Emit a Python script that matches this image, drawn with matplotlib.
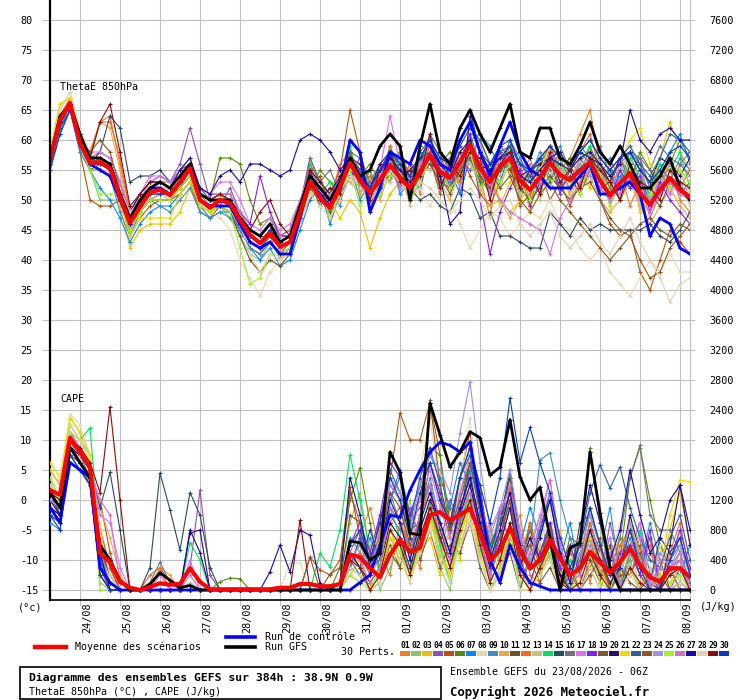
import numpy as np
import matplotlib
matplotlib.use('Agg')
import matplotlib.pyplot as plt
from matplotlib.lines import Line2D
from matplotlib.patches import Rectangle

# --- donnees lues sur le diagramme (pas de 6h depuis le 23/08 06Z) ---
date_labels = ['24/08', '25/08', '26/08', '27/08', '28/08', '29/08', '30/08', '31/08',
               '01/09', '02/09', '03/09', '04/09', '05/09', '06/09', '07/09', '08/09']

pert_colors = ['#e8802a', '#8cc56a', '#f0c000', '#8e4faf', '#b5520e', '#5a8a0a', '#0a84ff',
               '#e8d8b0', '#3a8fc0', '#e8a850', '#6b5420', '#f46a20', '#d0c080', '#00e060',
               '#2a4a60', '#6a7580', '#e070f0', '#8020f0', '#7a5a30', '#300a70', '#f0d800',
               '#2a60a0', '#8a5a20', '#a090e8', '#a0f030', '#d070d0', '#1a0a9a', '#e0d0b0',
               '#8a0a0a', '#0a3ac0']

# ThetaE 850hPa (degC)
te_mean = [56.7, 63.3, 66.2, 59.5, 56.2, 56.3, 55.3, 50.5, 46.2, 48.8, 51.3, 51.7, 50.8,
           53.0, 55.3, 50.0, 48.7, 50.0, 49.5, 46.7, 44.2, 42.8, 44.5, 42.2, 43.0, 47.8,
           53.0, 50.5, 48.7, 52.2, 56.2, 53.3, 51.2, 53.3, 55.8, 53.8, 52.0, 54.7, 57.5,
           54.7, 53.7, 56.3, 59.2, 55.3, 53.0, 55.5, 57.0, 53.3, 51.7, 53.8, 56.2, 54.2,
           53.3, 55.0, 56.3, 53.3, 50.8, 52.8, 54.5, 51.2, 49.2, 51.7, 53.7, 51.7, 50.5]
te_ctrl = [57, 63, 66, 60, 56, 55, 54, 50, 46, 49, 52, 52, 51,
           53, 55, 50, 49, 49, 49, 46, 43, 42, 43, 41, 41, 47,
           53, 51, 49, 52, 60, 58, 48, 52, 58, 57, 56, 60, 59,
           56, 55, 60, 63, 58, 54, 59, 63, 58, 55, 54, 52, 52,
           52, 54, 56, 51, 51, 52, 53, 51, 44, 47, 46, 42, 41]
te_gfs = [57, 64, 66, 61, 57, 57, 56, 51, 47, 50, 52, 53, 52,
          54, 56, 51, 50, 50, 50, 47, 45, 44, 46, 43, 44, 49,
          54, 52, 50, 53, 57, 54, 55, 59, 61, 59, 50, 59, 66,
          58, 56, 62, 65, 61, 58, 62, 66, 58, 57, 62, 62, 57,
          56, 59, 63, 58, 56, 59, 56, 52, 52, 54, 57, 52, 50]

te01 = [58,64,67,60,57,63,64,56,48,50,52,53,52, 54,56,51,50,51,49,45,42,41,44,40,42,47,
        50,54,47,53,59,51,55,50,58,52,56,51,60, 53,57,52,61,54,47,58,55,51,56,52,59,55,
        57,61,65,56,52,55,49,53,47,51,55,50,48]
te02 = [56,62,65,59,55,50,50,50,45,48,50,51,52, 52,54,49,48,49,47,44,41,40,43,41,42,46,
        55,49,52,50,58,55,48,54,55,57,50,58,56, 57,52,58,57,52,56,54,59,50,55,57,53,57,
        51,57,54,56,49,55,58,53,50,55,52,55,53]
te03 = [58,66,67,59,56,55,54,49,42,45,46,46,46, 48,52,49,48,51,49,46,43,42,44,43,44,48,
        54,52,50,47,50,48,42,47,51,53,51,55,57, 52,56,53,60,51,55,49,53,55,48,56,53,58,
        50,55,52,57,49,53,56,48,52,57,63,58,55]
te04 = [57,63,66,61,57,58,57,53,48,51,53,54,53, 56,62,56,50,49,52,48,45,44,46,44,45,49,
        57,53,51,55,54,57,50,56,53,58,53,57,55, 58,52,57,55,58,51,55,60,55,50,57,54,52,
        56,52,58,54,55,50,54,57,52,55,51,56,54]
te05 = [56,62,65,58,50,49,49,50,44,47,49,50,50, 51,53,48,47,49,48,45,42,41,43,41,43,49,
        56,53,51,55,65,58,52,55,57,54,51,54,57, 51,55,58,54,51,49,53,56,49,51,55,50,53,
        49,53,56,50,46,44,45,38,35,40,45,43,41]
te06 = [57,63,66,60,56,57,56,52,47,50,52,53,52, 54,56,51,50,57,57,56,50,46,47,44,45,50,
        52,55,53,51,57,54,56,53,59,55,50,57,60, 56,58,55,61,56,53,58,55,57,53,56,59,55,
        57,54,59,55,52,57,53,58,55,52,56,60,57]
te07 = [55,61,65,58,55,52,50,47,43,46,48,49,49, 51,53,49,47,48,48,45,42,40,42,39,40,45,
        50,52,46,51,56,50,53,51,57,51,53,52,58, 52,55,51,57,52,55,53,58,51,54,51,57,53,
        54,51,56,52,50,54,52,55,49,53,58,61,56]
te08 = [58,65,68,62,58,57,55,52,47,49,51,52,51, 52,54,50,48,47,45,40,37,34,38,40,41,47,
        52,50,49,51,55,52,50,52,55,53,50,52,49, 52,50,46,42,45,48,47,44,46,48,47,50,46,
        45,42,40,42,38,36,34,37,40,38,41,38,38]
te09 = [56,62,66,59,55,55,54,48,44,48,50,49,48, 50,52,48,47,48,47,45,42,41,43,41,42,46,
        54,50,52,49,57,55,51,55,58,56,53,57,59, 56,53,57,60,61,59,55,60,57,54,58,56,59,
        55,59,57,54,57,53,58,56,52,56,53,57,55]
te10 = [57,64,67,60,57,63,62,55,47,50,52,52,52, 53,56,50,49,50,49,46,43,42,44,42,43,47,
        51,53,48,54,53,51,54,50,55,52,55,53,57, 53,50,55,57,52,49,50,47,50,52,53,55,52,
        50,52,54,50,48,50,53,49,46,49,52,49,47]
te11 = [57,63,66,59,56,57,56,51,46,48,50,51,51, 52,54,49,48,49,48,44,40,38,40,39,41,46,
        53,49,51,50,54,55,49,53,54,56,50,53,58, 54,56,53,58,54,51,56,55,52,50,54,57,52,
        54,51,55,52,53,50,54,50,51,49,53,51,53]
te12 = [57,63,66,60,58,63,63,57,48,50,52,53,52, 54,56,51,49,50,49,46,43,42,44,42,43,48,
        55,52,50,56,58,52,54,52,59,53,56,54,61, 55,57,53,60,56,52,58,54,56,51,55,59,54,
        56,58,61,55,53,57,54,56,50,53,56,52,55]
te13 = [56,62,65,59,55,55,54,50,45,48,50,51,50, 52,54,49,48,49,49,46,43,42,44,42,43,47,
        51,52,47,53,53,54,48,54,53,55,49,56,55, 56,51,57,56,53,54,52,57,51,53,50,54,55,
        51,55,53,55,50,52,55,49,50,54,51,53,49]
te14 = [58,64,66,60,57,57,56,52,47,50,52,52,51, 53,55,51,50,51,50,47,44,43,45,43,44,49,
        56,51,53,52,59,52,55,51,58,55,52,58,57, 54,57,55,61,53,56,55,59,52,55,57,53,57,
        53,56,59,53,55,52,57,54,51,56,55,58,52]
te15 = [57,63,66,60,56,58,64,62,53,54,54,55,53, 55,56,52,50,51,50,47,45,44,46,44,44,48,
        53,51,49,52,56,53,51,53,56,54,52,50,51, 49,48,52,51,47,48,44,44,43,42,42,48,46,
        44,47,45,46,45,45,45,45,46,44,43,45,48]
te16 = [57,63,66,60,57,56,55,52,48,50,52,53,53, 54,56,52,51,51,51,48,45,44,46,44,45,49,
        57,53,55,51,58,57,53,56,55,58,54,56,61, 58,55,59,57,60,56,59,57,58,55,57,55,58,
        55,58,56,59,54,56,58,57,55,59,57,56,58]
te17 = [57,63,66,60,58,58,57,53,48,51,54,54,53, 55,57,52,51,53,53,50,46,45,47,45,46,50,
        55,52,50,53,57,54,52,55,64,56,53,56,59, 53,57,55,58,60,52,57,56,54,57,52,58,56,
        53,57,55,52,56,51,55,52,49,54,51,55,50]
te18 = [57,63,66,60,57,57,56,52,47,50,52,53,52, 54,56,51,50,50,50,48,46,54,48,44,44,49,
        53,51,49,54,55,53,50,55,56,52,54,57,56, 55,52,56,61,50,41,48,52,55,49,53,57,51,
        55,52,57,53,50,55,52,54,48,53,50,48,46]
te19 = [56,62,65,59,55,56,55,50,45,48,50,50,50, 52,54,50,49,50,49,46,43,42,44,42,43,47,
        52,50,48,50,54,52,50,52,55,53,51,54,56, 53,52,55,58,54,52,55,56,52,50,52,54,52,
        50,52,53,50,47,45,44,46,47,45,44,46,45]
te20 = [57,63,66,60,57,57,56,51,47,50,52,52,51, 53,55,51,50,51,50,47,44,43,45,43,44,48,
        55,53,51,54,57,55,52,56,58,54,55,57,58, 56,54,58,60,55,56,57,59,54,55,56,57,58,
        55,58,57,56,53,57,58,55,53,57,56,54,57]
te21 = [58,66,67,60,56,56,55,50,44,47,47,47,47, 51,53,49,48,50,49,46,43,42,44,42,43,48,
        53,51,49,52,56,53,51,53,56,54,52,55,58, 56,55,59,62,60,56,50,48,50,52,55,59,57,
        55,57,58,56,54,56,60,62,56,54,56,55,53]
te22 = [56,62,65,59,56,56,55,50,46,49,51,52,51, 53,55,50,49,50,49,46,43,42,44,42,43,48,
        54,51,50,53,57,55,52,54,56,55,54,58,60, 57,56,59,62,60,56,58,59,56,54,57,59,57,
        56,58,60,57,55,57,59,56,54,57,61,60,58]
te23 = [57,63,66,60,58,60,58,52,47,49,51,51,51, 52,55,50,49,50,50,47,44,43,45,42,43,48,
        52,54,49,51,58,53,51,55,57,53,52,56,58, 54,51,55,57,53,55,52,54,50,48,51,53,50,
        48,46,44,42,40,42,44,40,37,38,42,44,46]
te24 = [57,63,66,60,56,56,55,51,46,49,51,52,51, 53,55,50,49,50,50,47,44,43,45,42,43,48,
        54,50,51,53,55,54,49,55,57,52,54,55,60, 54,56,52,58,55,51,57,58,53,55,53,56,55,
        52,56,54,53,51,56,53,55,50,52,56,53,50]
te25 = [59,64,66,59,55,51,51,51,45,48,50,50,50, 52,54,49,48,49,48,42,36,37,41,41,42,47,
        51,52,47,51,55,49,52,51,54,55,50,53,57, 55,52,54,58,52,54,53,56,54,50,55,52,56,
        53,51,56,54,49,53,55,50,51,54,52,55,51]
te26 = [57,63,66,60,57,57,56,52,47,50,53,54,53, 54,56,52,51,51,51,48,45,44,46,44,45,49,
        54,52,50,53,57,54,52,54,57,55,53,56,59, 55,54,56,59,55,53,50,48,47,46,45,41,47,
        50,53,55,52,50,52,54,50,48,51,53,51,50]
te27 = [57,63,66,60,57,57,56,52,48,51,53,53,52, 55,57,52,51,54,55,53,56,56,55,54,55,60,
        61,60,58,55,57,54,52,55,57,55,53,55,57, 54,46,48,64,58,55,57,58,54,53,55,57,56,
        55,57,58,56,54,56,65,60,58,61,62,60,60]
te28 = [58,65,68,61,57,57,56,52,48,50,51,52,52, 53,55,51,50,51,50,46,41,38,41,40,41,46,
        51,49,47,50,54,52,50,52,55,53,51,53,52, 50,48,50,52,50,47,49,50,46,44,46,48,44,
        42,44,46,43,41,44,47,43,40,37,33,36,37]
te29 = [57,63,66,60,57,63,66,58,49,51,53,53,52, 54,56,51,50,51,50,47,45,48,50,46,44,49,
        55,50,52,51,57,56,50,55,58,53,55,54,61, 52,56,54,58,57,50,56,58,52,55,51,58,53,
        55,52,57,55,53,50,56,53,52,50,55,53,52]
te30 = [55,61,65,59,56,56,55,51,46,49,51,51,51, 53,55,50,49,50,50,47,44,43,45,43,44,48,
        54,52,50,53,57,54,52,55,58,56,54,57,60, 57,56,62,65,58,56,59,60,56,55,57,59,57,
        56,58,60,57,55,57,58,55,53,55,58,59,57]

# CAPE (J/kg)
cape_mean = [1330,1270,2030,1840,1630,490,370,110,30,0,40,90,70,
             80,290,110,10,10,10,10,10,10,10,30,30,80,
             80,50,50,80,470,440,290,170,470,670,510,560,1000,
             1040,930,1000,1090,760,400,530,830,530,290,400,670,430,
             200,290,510,370,230,370,560,330,170,110,290,290,170]
cape_ctrl = [1100,900,1700,1600,1500,300,100,0,0,0,0,0,0,
             0,0,0,0,0,0,0,0,0,0,0,0,0,
             0,0,0,0,0,100,200,600,1000,970,1330,1600,1840,
             1970,1930,1840,1970,1200,400,100,600,300,100,50,0,0,
             0,0,0,0,0,0,0,0,0,0,0,0,0]
cape_gfs = [1300,1100,1900,1700,1500,600,400,130,0,0,80,230,130,
            30,60,0,0,0,0,0,0,0,0,0,0,0,
            0,0,0,0,650,630,400,490,1840,1570,760,730,2490,
            2070,1640,1840,2110,2030,1530,1640,2270,1510,1200,1370,700,0,
            560,630,1840,1030,310,0,0,0,0,0,0,0,0]

cp01 = [1200,1100,2100,1900,1700,300,0,0,0,0,0,270,0, 0,0,0,0,0,0,0,0,0,0,0,0,0,
        0,0,0,100,300,700,1100,500,200,900,600,300,1200, 400,1100,600,900,1300,300,200,700,1000,200,100,900,500,
        300,700,100,600,200,500,900,300,100,600,400,700,200]
cp02 = [1500,1200,2200,2000,1800,100,0,0,0,0,0,0,0, 0,100,0,0,0,0,0,0,0,0,0,0,0,
        0,0,0,100,900,1300,500,0,300,700,1200,400,1100, 300,0,800,1400,600,900,300,800,200,600,1000,400,500,
        0,400,900,200,600,0,1000,400,700,0,200,500,100]
cp03 = [1600,1400,2300,2100,1800,600,0,0,0,0,0,0,0, 0,0,0,0,0,0,0,0,0,0,0,0,0,
        0,0,0,0,200,400,0,600,900,300,800,500,700, 200,900,400,1200,400,700,300,900,0,500,200,700,0,
        400,300,1100,600,0,700,400,0,500,200,800,1300,600]
cp04 = [1100,900,1900,1800,1600,500,200,0,0,0,0,0,0, 0,300,1330,200,0,0,0,0,0,0,0,0,0,
        0,0,0,0,500,800,300,1000,1200,1500,900,1100,1400, 600,1200,900,1600,700,100,1100,600,200,900,400,900,100,
        600,200,700,100,900,300,600,200,700,100,300,400,0]
cp05 = [1300,1000,2000,1700,1500,1200,500,0,0,0,0,0,0, 0,0,0,0,0,0,0,0,0,0,0,0,0,
        440,270,200,400,1370,700,300,800,1500,2360,2000,2000,2500, 1800,900,1500,2100,1200,400,600,1400,300,700,300,600,0,
        300,0,400,700,0,300,200,600,0,200,0,300,0]
cp06 = [1400,1200,2100,1900,1700,400,0,0,0,0,0,0,0, 0,0,0,0,110,160,150,0,0,0,0,0,0,
        0,0,0,300,1200,1630,900,200,600,300,1000,1200,1900, 1800,700,1300,1700,1400,500,1000,1500,300,900,400,900,200,
        700,600,1890,900,200,400,1500,1900,1200,600,300,500,0]
cp07 = [900,800,1800,1600,1400,200,0,0,0,0,0,0,0, 0,0,0,0,0,0,0,0,0,0,0,0,0,
        0,0,0,0,400,200,700,300,1200,1600,1000,1400,1800, 1500,1100,1700,1400,900,200,800,1600,600,1100,700,1300,400,
        900,200,800,300,700,100,500,900,200,0,300,200,600]
cp08 = [1500,1300,2350,2200,1800,900,300,0,0,0,0,0,0, 0,0,0,0,0,0,0,0,0,0,0,360,360,
        0,0,0,100,600,400,100,900,800,1200,600,1600,2300, 1300,600,1400,2290,1000,200,500,1200,300,800,600,1100,200,
        500,0,600,100,400,900,400,0,300,600,0,200,0]
cp09 = [1000,900,1900,1800,1500,500,100,0,0,0,0,300,100, 0,0,0,0,0,0,0,0,0,0,0,0,0,
        0,0,0,0,700,500,200,600,1300,900,400,1000,1500, 900,500,1200,1600,800,400,1100,1200,500,600,1730,1830,1200,
        700,300,900,500,1100,200,700,300,900,400,400,600,200]
cp10 = [1600,1400,2200,2000,1700,1100,700,200,0,0,0,300,200, 0,0,0,0,0,0,0,0,0,0,0,0,0,
        0,0,0,0,400,300,600,200,700,400,900,600,1100, 600,200,800,1300,500,900,300,700,400,0,300,500,800,
        200,500,300,0,400,700,300,0,500,200,100,300,0]
cp11 = [1100,1000,1900,1700,1500,500,0,0,0,0,0,0,0, 0,0,0,0,0,0,0,0,0,0,0,0,0,
        0,0,0,100,1000,900,400,700,1400,1200,800,900,1700, 1200,700,1500,1900,1300,600,900,1500,400,800,500,800,200,
        0,500,400,100,600,0,500,200,0,400,0,100,0]
cp12 = [1300,1200,2000,1800,1600,800,300,0,0,0,200,300,0, 0,0,0,0,0,0,0,0,0,0,0,0,0,
        0,0,0,0,300,500,200,800,900,1100,500,1000,1300, 700,400,1100,1500,900,300,600,1400,400,900,300,700,100,
        500,300,900,400,0,600,800,300,600,0,500,900,200]
cp13 = [1200,1100,2000,1900,1600,400,100,0,0,0,0,0,0, 0,0,0,0,0,0,0,0,0,0,0,0,0,
        0,0,0,0,200,100,500,300,700,500,200,600,1000, 400,800,600,1000,400,600,200,600,300,0,600,400,0,
        300,0,300,500,0,200,600,0,300,0,400,100,0]
cp14 = [1400,1200,2100,2000,2160,600,200,0,0,0,0,0,0, 0,630,400,0,0,0,0,0,0,0,0,0,0,
        0,490,310,800,1800,1200,500,300,1100,700,200,800,1200, 600,100,900,1300,500,800,400,900,0,500,300,600,0,
        400,200,700,200,500,0,400,800,0,300,200,300,0]
cp15 = [1300,1000,2000,1800,1600,1100,1570,800,0,0,300,1560,1070, 530,1300,1000,300,0,0,0,0,0,0,0,0,0,
        0,0,0,0,500,300,800,400,1100,900,500,1000,1400, 800,400,1000,1700,1100,500,900,1600,700,300,800,1300,600,
        100,900,1000,600,200,300,800,400,100,700,500,700,200]
cp16 = [1200,1000,1900,1700,1500,400,0,0,0,0,100,370,100, 0,0,0,0,0,0,0,0,0,0,0,0,0,
        0,0,0,0,400,600,300,400,1000,800,1100,700,1100, 700,300,900,1200,700,200,600,1100,300,800,400,800,300,
        0,400,1100,600,200,700,1500,1930,1000,800,800,500,100]
cp17 = [1300,1100,2100,1900,1700,1000,900,300,0,0,0,200,0, 0,400,0,0,0,0,0,0,0,0,0,0,0,
        0,0,0,0,300,700,400,600,1400,1200,700,1200,1600, 1100,700,1300,1800,1200,700,1100,1300,700,500,1000,1470,600,
        100,300,800,300,700,100,500,900,0,400,300,500,0]
cp18 = [1000,900,1800,1700,1500,200,0,0,0,0,0,0,0, 0,0,0,0,0,0,0,0,0,0,0,0,0,
        0,0,0,0,600,900,500,1000,1700,1500,1000,1400,1700, 1300,800,1100,1500,900,300,700,1200,400,100,500,900,300,
        600,200,700,300,0,500,600,200,800,0,400,800,300]
cp19 = [1100,1000,1800,1700,1400,300,0,0,0,0,0,0,0, 0,0,0,0,0,0,0,0,0,0,0,0,0,
        0,0,0,0,300,200,0,100,500,300,700,400,800, 300,600,500,900,300,0,200,500,0,400,100,300,0,
        200,0,200,400,0,300,100,0,200,0,0,100,0]
cp20 = [1200,1000,1900,1800,1600,600,200,0,0,0,0,0,0, 0,760,800,0,0,0,0,0,0,0,0,0,0,
        0,0,0,0,500,300,100,300,900,700,300,800,1200, 900,500,1000,1400,800,300,600,1100,300,700,400,700,200,
        0,300,800,400,100,300,1000,500,100,0,600,1400,600]
cp21 = [1700,1500,2300,2100,1800,700,200,0,0,0,0,0,0, 0,0,0,0,0,0,0,0,0,0,0,0,0,
        0,0,0,0,400,300,0,200,700,600,200,500,900, 500,200,700,1100,600,100,400,800,200,0,300,600,100,
        0,200,700,300,0,200,900,500,100,200,1000,1470,1440]
cp22 = [1000,900,1700,1600,1400,400,100,0,0,0,0,0,0, 0,0,0,0,0,0,0,0,0,0,0,0,0,
        0,0,0,0,300,700,400,900,1600,1300,900,1500,1900, 1400,800,1500,1800,1100,600,900,1300,500,300,800,1200,500,
        200,600,1300,1670,1360,1640,1100,700,400,300,700,1000,400]
cp23 = [1300,1100,2000,1800,1600,800,300,0,0,0,0,0,0, 0,0,0,0,0,0,0,0,0,0,0,0,0,
        440,0,210,300,1300,900,400,600,1300,1100,600,900,2530, 1400,800,1200,1700,1000,400,700,1200,300,600,200,500,0,
        300,0,300,600,0,200,200,500,0,0,300,0,0]
cp24 = [1200,1100,2000,1900,1600,500,100,0,0,0,0,0,0, 0,0,0,0,0,0,0,0,0,0,0,0,0,
        0,0,0,0,400,600,300,700,1500,1300,800,1400,1800, 1600,1300,2100,2770,1700,800,1100,1600,800,400,900,1300,600,
        200,500,1000,600,200,400,900,400,100,500,300,600,200]
cp25 = [1500,1200,2100,2000,1700,0,0,0,0,0,0,0,0, 0,0,0,0,0,0,0,0,0,0,0,0,0,
        0,0,0,0,200,100,0,300,800,500,100,600,1000, 500,100,700,1200,500,0,300,800,0,0,200,500,0,
        0,300,500,100,0,400,300,0,0,200,100,200,0]
cp26 = [1300,1100,2000,1800,1600,1200,1000,100,0,0,0,0,0, 0,200,0,0,0,0,0,0,0,0,0,0,0,
        0,0,0,0,500,400,100,300,1100,900,500,1000,1400, 900,400,1000,1300,700,200,1000,1400,700,300,900,1470,600,
        100,200,600,200,500,0,300,700,0,300,200,400,0]
cp27 = [1100,1000,1900,1700,1500,500,0,0,0,0,0,0,0, 0,800,500,0,0,0,0,0,0,240,600,240,800,
        730,90,0,100,1500,1000,300,500,1200,900,400,900,1300, 900,500,1100,1500,900,400,800,1300,600,300,700,1200,500,
        100,700,1400,900,400,800,1600,1000,500,700,1200,1400,800]
cp28 = [1400,1200,2200,2000,1700,800,200,0,0,0,0,0,0, 0,0,0,0,0,0,0,0,0,0,0,0,0,
        0,0,0,0,300,200,0,100,500,400,100,500,800, 400,100,600,900,400,0,200,600,0,0,200,400,0,
        0,0,300,0,0,0,200,0,0,0,0,100,0]
cp29 = [1300,1200,2000,1900,1700,1300,2440,1200,0,0,0,0,0, 0,0,0,0,0,0,0,0,0,0,0,0,930,
        0,0,0,0,400,300,0,200,800,600,200,700,1100, 700,300,800,1200,600,100,400,900,200,0,300,600,100,
        0,100,500,200,0,0,300,100,0,0,200,300,0]
cp30 = [1000,800,1800,1600,1400,200,0,0,0,0,0,0,0, 0,0,0,0,0,0,0,0,0,0,0,0,0,
        0,0,0,0,600,800,400,900,1500,1200,700,1300,1700, 1200,900,1500,1900,1400,900,1500,2560,1700,2170,1690,1300,700,
        300,600,1100,600,200,300,800,300,0,0,400,700,200]

te_members = [te01, te02, te03, te04, te05, te06, te07, te08, te09, te10,
              te11, te12, te13, te14, te15, te16, te17, te18, te19, te20,
              te21, te22, te23, te24, te25, te26, te27, te28, te29, te30]
cape_members = [cp01, cp02, cp03, cp04, cp05, cp06, cp07, cp08, cp09, cp10,
                cp11, cp12, cp13, cp14, cp15, cp16, cp17, cp18, cp19, cp20,
                cp21, cp22, cp23, cp24, cp25, cp26, cp27, cp28, cp29, cp30]

n = len(te_mean)
for k, (a, b) in enumerate(zip(te_members, cape_members)):
    assert len(a) == n and len(b) == n, (k + 1, len(a), len(b))
for s in (te_ctrl, te_gfs, cape_mean, cape_ctrl, cape_gfs):
    assert len(s) == n, len(s)

plt.rcParams['font.family'] = 'DejaVu Sans Mono'

W, H = 740, 700


def fx(x):
    return x / W


def fy(y):
    return 1 - y / H


fig = plt.figure(figsize=(W / 100, H / 100), dpi=100)
fig.patch.set_facecolor('white')

ax = fig.add_axes([fx(50), fy(600), 640 / W, 600 / H])
steps = np.arange(n)
ymin, ymax = -15 - 10 / 6, 80 + 20 / 6
ax.set_xlim(0, n - 1)
ax.set_ylim(ymin, ymax)

day_pos = 3 + 4 * np.arange(len(date_labels))
ax.set_xticks(day_pos)
ax.set_xticklabels([])
ax.set_yticks(np.arange(-15, 81, 5))
ax.set_yticklabels([str(v) for v in range(-15, 81, 5)], ha='left', fontsize=7.3)
ax.tick_params(axis='y', length=5.5, color='#c0c0c0', pad=16)
ax.tick_params(axis='x', length=4, color='#c0c0c0')
ax.grid(True, color='#c0c0c0', lw=0.8)
ax.set_axisbelow(True)
ax.spines['top'].set_visible(False)
ax.spines['right'].set_color('#c0c0c0')
ax.spines['left'].set_linewidth(1.6)
ax.spines['bottom'].set_linewidth(1.2)

ax2 = ax.twinx()
ax2.set_ylim((ymin + 15) * 80, (ymax + 15) * 80)
ax2.set_yticks(np.arange(0, 7601, 400))
ax2.set_yticklabels([str(v) for v in range(0, 7601, 400)], ha='left', fontsize=7.3)
ax2.tick_params(axis='y', length=3.5, color='#c0c0c0', pad=10.5)
for sp in ax2.spines.values():
    sp.set_visible(False)

mk = dict(marker='+', ms=3.5, mew=0.8)
for vals, col in zip(te_members, pert_colors):
    ax.plot(steps, vals, color=col, lw=0.8, **mk)
for vals, col in zip(cape_members, pert_colors):
    ax2.plot(steps, vals, color=col, lw=0.8, **mk)

ax.plot(steps, te_ctrl, color='#0000ff', lw=2.0, **mk)
ax.plot(steps, te_gfs, color='black', lw=2.0, **mk)
ax.plot(steps, te_mean, color='#ff0000', lw=3.0)
ax2.plot(steps, cape_ctrl, color='#0000ff', lw=2.0, **mk)
ax2.plot(steps, cape_gfs, color='black', lw=2.0, **mk)
ax2.plot(steps, cape_mean, color='#ff0000', lw=3.0)

# dates sous l'axe
for p, lab in zip(day_pos, date_labels):
    ax.text(p + 0.7, -0.004, lab, transform=ax.get_xaxis_transform(),
            rotation=90, ha='center', va='top', fontsize=7.3)

fig.text(fx(60), fy(86.5), 'ThetaE 850hPa', ha='left', va='center', fontsize=7.2)
fig.text(fx(60), fy(399), 'CAPE', ha='left', va='center', fontsize=7.2)
fig.text(fx(18), fy(607), '(°c)', ha='left', va='center', fontsize=7.3)
fig.text(fx(700), fy(607), '(J/kg)', ha='left', va='center', fontsize=7.3)

# legende
fig.add_artist(Line2D([fx(35), fx(66)], [fy(647), fy(647)], color='#ff0000', lw=3.2))
fig.text(fx(75), fy(647), 'Moyenne des scénarios', ha='left', va='center', fontsize=7.2)
fig.add_artist(Line2D([fx(226), fx(255)], [fy(637), fy(637)], color='#0000ff', lw=2.6))
fig.text(fx(265), fy(637), 'Run de contrôle', ha='left', va='center', fontsize=7.2)
fig.add_artist(Line2D([fx(226), fx(255)], [fy(647), fy(647)], color='black', lw=2.6))
fig.text(fx(265), fy(647), 'Run GFS', ha='left', va='center', fontsize=7.2)
fig.text(fx(395), fy(652), '30 Perts.', ha='right', va='center', fontsize=7.2)
for k, col in enumerate(pert_colors):
    x0 = 400 + 11 * k
    fig.text(fx(x0 + 5.5), fy(645), f'{k + 1:02d}', ha='center', va='center',
             fontsize=5.8, fontweight='bold')
    fig.add_artist(Rectangle((fx(x0), fy(656)), 10 / W, 5 / H, color=col, lw=0))

fig.add_artist(Rectangle((fx(20), fy(699)), 421 / W, 32 / H, fill=False,
                         ec='black', lw=1.2))
fig.text(fx(29), fy(678), 'Diagramme des ensembles GEFS sur 384h : 38.9N 0.9W',
         ha='left', va='center', fontsize=8.2, fontweight='bold')
fig.text(fx(29), fy(692), 'ThetaE 850hPa (°C) , CAPE (J/kg)',
         ha='left', va='center', fontsize=7.2)
fig.text(fx(450), fy(672), 'Ensemble GEFS du 23/08/2026 - 06Z',
         ha='left', va='center', fontsize=7.1)
fig.text(fx(450), fy(692), 'Copyright 2026 Meteociel.fr',
         ha='left', va='center', fontsize=8.8, fontweight='bold')

fig.savefig('out.png', dpi=100)
